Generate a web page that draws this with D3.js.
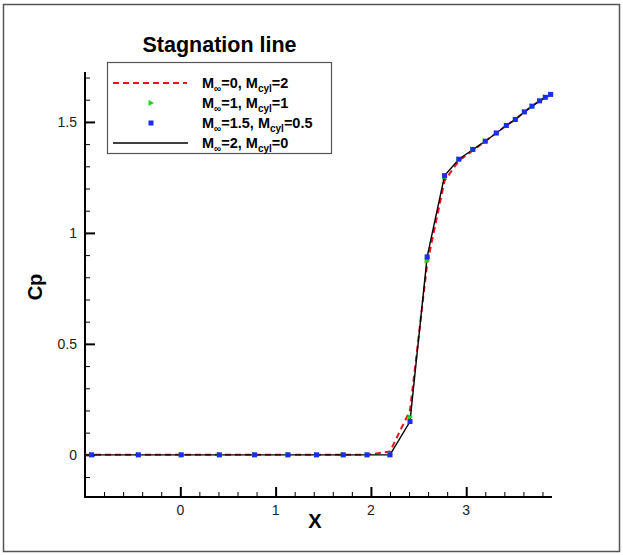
<!DOCTYPE html>
<html><head><meta charset="utf-8">
<script src="https://cdn.jsdelivr.net/npm/d3@7"></script>
<style>body{margin:0;background:#fff;}svg{display:block;font-family:"Liberation Sans",Arial,sans-serif;}</style>
</head><body>
<script>
// ---- data ----
const xGrid = [-0.93, -0.44, 0.01, 0.41, 0.78, 1.13, 1.43, 1.71, 1.96, 2.20, 2.41, 2.59, 2.773, 2.923, 3.07, 3.20, 3.316, 3.421, 3.515, 3.61, 3.69, 3.77, 3.83, 3.886];
const cpM0  = [0, 0, 0, 0, 0, 0, 0, 0, 0, 0.015, 0.20, 0.86, 1.235, 1.325, 1.372, 1.413, 1.45, 1.484, 1.511, 1.545, 1.571, 1.595, 1.611, 1.624];
const cpM1  = [0, 0, 0, 0, 0, 0, 0, 0, 0, 0, 0.17, 0.875, 1.252, 1.332, 1.376, 1.413, 1.45, 1.484, 1.511, 1.545, 1.571, 1.595, 1.611, 1.624];
const cpM15 = [0, 0, 0, 0, 0, 0, 0, 0, 0, 0, 0.15, 0.892, 1.258, 1.332, 1.376, 1.413, 1.45, 1.484, 1.511, 1.545, 1.571, 1.595, 1.611, 1.624];
const cpM2  = [0, 0, 0, 0, 0, 0, 0, 0, 0, 0, 0.15, 0.892, 1.258, 1.332, 1.376, 1.413, 1.45, 1.484, 1.511, 1.545, 1.571, 1.595, 1.611, 1.624];
const xTickLabels = [0, 1, 2, 3];
const yTickLabels = [0, 0.5, 1, 1.5];
const legendMinf = ["0", "1", "1.5", "2"];
const legendMcyl = ["2", "1", "0.5", "0"];
const titleText = "Stagnation line";

const W = 623, H = 555;
const svg = d3.select("body").append("svg").attr("width", W).attr("height", H);

// outer frame
svg.append("rect").attr("x", 3.5).attr("y", 4.5).attr("width", 616).attr("height", 547)
  .attr("fill", "none").attr("stroke", "#555").attr("stroke-width", 1.5);

const x = d3.scaleLinear().domain([-1.0, 3.9]).range([85, 552]);
const y = d3.scaleLinear().domain([-0.19, 1.725]).range([497, 72]);

// axes
const xAxis = d3.axisTop(x).tickValues(d3.range(-0.8, 3.85, 0.2).map(v => +v.toFixed(1)))
  .tickSize(5).tickFormat("");
const gx = svg.append("g").attr("transform", "translate(0,497)");
gx.call(xAxis);
gx.selectAll(".tick line").attr("stroke", "#000").attr("stroke-width", 1)
  .attr("y2", d => (Math.abs(d - Math.round(d)) < 1e-6 ? -10 : -5))
  .attr("stroke-width", d => (Math.abs(d - Math.round(d)) < 1e-6 ? 2 : 1));
gx.select(".domain").remove();
gx.append("line").attr("x1", x.range()[0] - 1).attr("x2", x.range()[1]).attr("stroke", "#000").attr("stroke-width", 2);
gx.selectAll(".lbl").data(xTickLabels).enter().append("text")
  .attr("x", d => x(d)).attr("y", 18).attr("text-anchor", "middle")
  .attr("font-size", 14).attr("fill", "#222").text(d => d);

const isMajY = d => Math.abs(d * 2 - Math.round(d * 2)) < 1e-6;
const yAxis = d3.axisRight(y).tickValues(d3.range(-0.1, 1.75, 0.1).map(v => +v.toFixed(1)))
  .tickSize(5).tickFormat("");
const gy = svg.append("g").attr("transform", "translate(85,0)");
gy.call(yAxis);
gy.selectAll(".tick line").attr("stroke", "#000")
  .attr("x2", d => (isMajY(d) ? 10 : 5))
  .attr("stroke-width", d => (isMajY(d) ? 2 : 1));
gy.select(".domain").remove();
gy.append("line").attr("y1", y.range()[0] + 1).attr("y2", y.range()[1]).attr("stroke", "#000").attr("stroke-width", 2);
gy.selectAll(".lbl").data(yTickLabels).enter().append("text")
  .attr("x", -8).attr("y", d => y(d)).attr("dy", "0.35em").attr("text-anchor", "end")
  .attr("font-size", 14).attr("fill", "#222").text(d => d);

// axis titles
svg.append("text").attr("x", 315).attr("y", 528).attr("text-anchor", "middle")
  .attr("font-size", 20).attr("font-weight", "bold").text("X");
svg.append("text").attr("transform", "translate(42,287) rotate(-90)").attr("text-anchor", "middle")
  .attr("font-size", 20).attr("font-weight", "bold").text("Cp");

// series
const toPts = ys => xGrid.map((xv, i) => [xv, ys[i]]);
const line = d3.line().x(d => x(d[0])).y(d => y(d[1]));
const plot = svg.append("g");
plot.append("path").datum([[-1.0, 0]].concat(toPts(cpM0))).attr("d", line)
  .attr("fill", "none").attr("stroke", "#e8141c").attr("stroke-width", 2).attr("stroke-dasharray", "6,4");
plot.append("path").datum([[-1.0, 0]].concat(toPts(cpM2))).attr("d", line)
  .attr("fill", "none").attr("stroke", "#000").attr("stroke-width", 1.4);
const tri = "M-2.5,-3 L3,0 L-2.5,3 Z";
plot.selectAll(".g").data(toPts(cpM1)).enter().append("path")
  .attr("d", tri).attr("transform", d => `translate(${x(d[0])},${y(d[1])})`).attr("fill", "#1ed21e");
plot.selectAll(".b").data(toPts(cpM15)).enter().append("rect")
  .attr("x", d => x(d[0]) - 2.5).attr("y", d => y(d[1]) - 2.5).attr("width", 5).attr("height", 5).attr("fill", "#1a2cf0");

// title
svg.append("text").attr("x", 219.5).attr("y", 52).attr("text-anchor", "middle")
  .attr("font-size", 21.5).attr("font-weight", "bold").text(titleText);

// legend
const lg = svg.append("g");
lg.append("rect").attr("x", 107.5).attr("y", 62.5).attr("width", 224).attr("height", 91)
  .attr("fill", "#fff").attr("stroke", "#555").attr("stroke-width", 1.2);
const rowY = [83, 103, 123, 143];
rowY.forEach((ry, i) => {
  if (i === 0) lg.append("line").attr("x1", 113).attr("x2", 187).attr("y1", ry).attr("y2", ry)
    .attr("stroke", "#e8141c").attr("stroke-width", 2).attr("stroke-dasharray", "6,4");
  if (i === 1) lg.append("path").attr("d", tri).attr("transform", `translate(151,${ry})`).attr("fill", "#1ed21e");
  if (i === 2) lg.append("rect").attr("x", 148.5).attr("y", ry - 2.5).attr("width", 5).attr("height", 5).attr("fill", "#1a2cf0");
  if (i === 3) lg.append("line").attr("x1", 113).attr("x2", 188).attr("y1", ry).attr("y2", ry)
    .attr("stroke", "#000").attr("stroke-width", 1.4);
  const t = lg.append("text").attr("x", 202).attr("y", ry + 5).attr("font-size", 14.5).attr("font-weight", "bold");
  t.append("tspan").text("M");
  t.append("tspan").attr("font-size", 10).attr("dy", 4).text("\u221E");
  t.append("tspan").attr("dy", -4).text("=" + legendMinf[i] + ", M");
  t.append("tspan").attr("font-size", 10).attr("dy", 4).text("cyl");
  t.append("tspan").attr("dy", -4).text("=" + legendMcyl[i]);
});
</script>
</body></html>
